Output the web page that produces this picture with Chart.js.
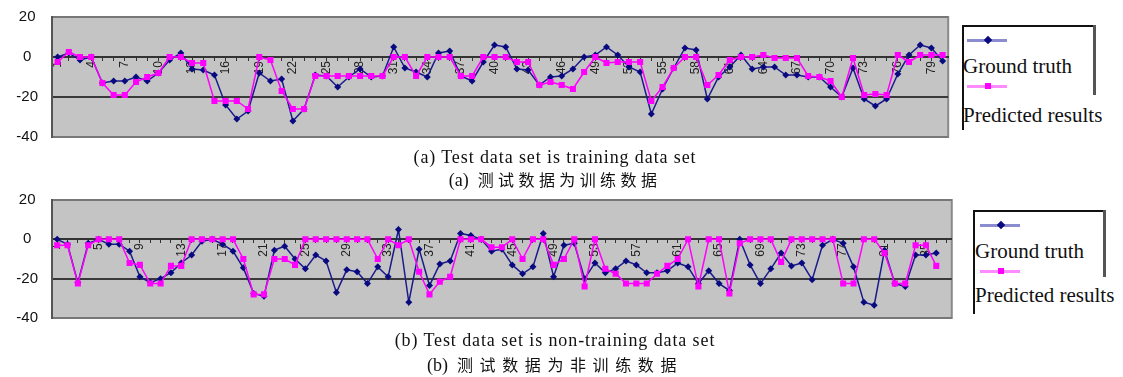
<!DOCTYPE html>
<html lang="zh">
<head>
<meta charset="UTF-8">
<title>Ground truth vs predicted results</title>
<script src="https://cdn.jsdelivr.net/npm/chart.js"></script>
<style>
    body { margin: 0; width: 1123px; height: 377px; background: #fff; position: relative; overflow: hidden;
           font-family: "Liberation Serif", "Times New Roman", serif; color: #111; }
    canvas { position: absolute; left: 0; }
    .abs { position: absolute; }
    .box { border-left: 2px solid #111; border-top: 2px solid #111; }
    .rb { width: 3px; background: #555; }
    .line { height: 3px; }
    .mk { width: 6px; height: 6px; }
    .lgtext { font-size: 21px; line-height: 22px; white-space: nowrap; }
    .cap { left: 250px; width: 610px; text-align: center; white-space: nowrap; line-height: 20px; font-size: 18px; letter-spacing: 0.9px; }
    .cn { font-size: 18px; letter-spacing: 0; }
    .cjk { font-family: "Noto Sans CJK SC", sans-serif; font-size: 16px; }
</style>
</head>
<body>
<!-- canvases are shifted so that the plot areas land where the reference has them -->
<canvas id="chartA" width="958" height="166" style="top:-6px"></canvas>
<canvas id="chartB" width="962" height="164" style="top:177px"></canvas>

<!-- legend (a) -->
<div class="abs box" style="left:962px; top:25px; width:131px; height:103px;"></div>
<div class="abs rb" style="left:1093px; top:25px; height:70px;"></div>
<div class="abs line" style="left:967px; top:39px; width:40px; background:#8c8cd0;"></div>
<div class="abs mk" style="left:985px; top:37px; background:#0a0a80; transform:rotate(45deg);"></div>
<div class="abs lgtext" style="left:963px; top:55px;">Ground truth</div>
<div class="abs line" style="left:967px; top:85px; width:40px; background:#ff8cff;"></div>
<div class="abs mk" style="left:985px; top:83px; background:#ff00ff;"></div>
<div class="abs lgtext" style="left:963px; top:104px;">Predicted results</div>

<!-- legend (b) -->
<div class="abs box" style="left:973px; top:210px; width:130px; height:102px;"></div>
<div class="abs rb" style="left:1103px; top:210px; height:67px;"></div>
<div class="abs line" style="left:980px; top:224px; width:40px; background:#8c8cd0;"></div>
<div class="abs mk" style="left:998px; top:222px; background:#0a0a80; transform:rotate(45deg);"></div>
<div class="abs lgtext" style="left:975px; top:240px;">Ground truth</div>
<div class="abs line" style="left:980px; top:270px; width:40px; background:#ff8cff;"></div>
<div class="abs mk" style="left:998px; top:268px; background:#ff00ff;"></div>
<div class="abs lgtext" style="left:975px; top:284px;">Predicted results</div>

<!-- captions -->
<div class="abs cap" style="top:147px;">(a) Test data set is training data set</div>
<div class="abs cap cn" style="top:169px;">(a)&nbsp; <span class="cjk" style="letter-spacing:4.4px">测试数据为训练数据</span></div>
<div class="abs cap" style="top:330px;">(b) Test data set is non-training data set</div>
<div class="abs cap cn" style="top:354px;">(b)&nbsp; <span class="cjk" style="letter-spacing:6.6px">测试数据为非训练数据</span></div>

<script>
    // sample numbers on the x axis
    const samplesA = Array.from({ length: 80 }, (_, i) => String(i + 1));
    const samplesB = Array.from({ length: 87 }, (_, i) => String(i + 1));
    const yTicks = [20, 0, -20, -40];

    // (a) test data set is training data set
    const truthA = [0, 2, -1.5, 0, -13, -12, -12, -10, -12, -8,
        -1.5, 2, -6, -6.5, -9, -24, -31, -27, -8, -12,
        -11, -32, -26, -9, -9.5, -15, -10, -6, -10, -9.5,
        5, -5.5, -7.5, -10, 2, 3, -9.5, -12, -2.5, 6,
        5, -6, -6.5, -14, -10, -9.5, -6, 0, 1, 5,
        1, -5, -7.5, -28.5, -16, -5.5, 4.5, 3.5, -21, -10,
        -5, 1, -6, -5, -5, -9, -9, -10, -10, -15,
        -20, -5.5, -21, -24.5, -21, -8.5, 1, 6, 4.5, -2];
    const predA = [-2.5, 2.5, 0, 0, -13, -19, -19, -12.5, -10, -8,
        0, 0, -3, -3, -22, -22, -22, -26, 0, -1.5,
        -17, -26, -26, -9.5, -9.5, -9.5, -9.5, -9.5, -9.5, -9.5,
        0, 0, -9.5, 0, 0, 0, -9.5, -9.5, 0, 0,
        0, -2.5, -2.5, -14, -12.5, -14, -16, -7.5, 0, -3,
        -2.5, -2.5, -2.5, -22, -15, -5.5, 0, 0, -14, -9,
        -1.5, 0, 0, 1, -0.5, -0.5, -0.5, -9.5, -10, -12,
        -20, -0.5, -19, -18.5, -19, 1, -2.5, 1, 1, 1];

    // (b) test data set is non-training data set
    const truthB = [0, -2.5, -22, -2, 0, -2.5, -2.5, -6, -19, -22,
        -20, -17, -12, -8, -1, 0, -2.5, -6, -14.5, -27.5,
        -29, -5.5, -3.5, -10, -15, -8, -11, -27, -15.5, -16.5,
        -22.5, -14, -19, 5, -32, -5, -23.5, -12.5, -11, 3,
        2, 0, -6, -5, -13, -17.5, -14, 3, -19, -3,
        -2, -20, -12, -17, -15, -11, -13, -17, -17, -16,
        -12, -14, -22.5, -16, -22.5, -26, 0, -13, -22.5, -15,
        -7, -13.5, -12, -20.5, -3, 0, -2, -14, -32, -33.5,
        -5.5, -22.5, -24, -8, -8, -7];
    const predB = [-3, -3, -22.5, -3, 0, 0, 0, -12, -13, -22.5,
        -22.5, -13.5, -13.5, 0, 0, 0, 0, 0, -10, -28,
        -28, -10, -10, -13, 0, 0, 0, 0, 0, 0,
        0, -10, 0, -3, 0, -16.5, -28, -21.5, -19, 0,
        0, 0, -4, -4, 0, -10, 0, 0, -13, -10,
        0, -24, 0, -15, -17.5, -22.5, -22.5, -22.5, -17.5, -13.5,
        -10, 0, -24, 0, 0, -27.5, -2, 0, 0, 0,
        -11.5, 0, 0, 0, 0, 0, -22.5, -22.5, 0, 0,
        -7, -22.5, -22.5, -3, -3, -13.5];

    // grey plot area with a frame, like the old spreadsheet chart
    const plotBackground = {
        id: 'plotBackground',
        beforeDraw(chart) {
            const { ctx, chartArea: a } = chart;
            ctx.save();
            ctx.fillStyle = '#c4c4c4';
            ctx.fillRect(a.left, a.top, a.right - a.left, a.bottom - a.top);
            ctx.strokeStyle = '#8a8a8a';
            ctx.lineWidth = 2;
            ctx.strokeRect(a.left, a.top, a.right - a.left, a.bottom - a.top);
            ctx.restore();
        }
    };

    function buildChart(id, samples, truth, pred, labelStep) {
        return new Chart(document.getElementById(id), {
            type: 'line',
            data: {
                labels: samples,
                datasets: [
                    {
                        label: 'Ground truth',
                        data: truth,
                        borderColor: '#1a1a8c',
                        backgroundColor: '#0a0a80',
                        borderWidth: 1.5,
                        pointStyle: 'rectRot',
                        pointRadius: 3.5,
                        pointBorderWidth: 0,
                        order: 1
                    },
                    {
                        label: 'Predicted results',
                        data: pred,
                        borderColor: '#ff00ff',
                        backgroundColor: '#ff00ff',
                        borderWidth: 1.5,
                        pointStyle: 'rect',
                        pointRadius: 4.3,
                        pointBorderWidth: 0,
                        order: 0
                    }
                ]
            },
            options: {
                responsive: false,
                animation: false,
                layout: { padding: 0, autoPadding: false },
                plugins: { legend: { display: false }, tooltip: { enabled: false } },
                scales: {
                    x: {
                        type: 'category',
                        position: { y: 0 },
                        offset: true,
                        afterFit: s => { s.height = 0; },
                        grid: { drawOnChartArea: false, tickLength: 3, color: '#333' },
                        border: { color: '#333', width: 2 },
                        ticks: {
                            autoSkip: false,
                            minRotation: 90,
                            maxRotation: 90,
                            padding: 1,
                            color: '#222',
                            font: { family: 'Liberation Sans', size: 12 },
                            callback: function (v, i) {
                                return i % labelStep === 0 ? this.getLabelForValue(v) : '';
                            }
                        }
                    },
                    y: {
                        min: -40,
                        max: 20,
                        afterBuildTicks: s => { s.ticks = yTicks.map(v => ({ value: v })); },
                        afterFit: s => { s.width = 52; },
                        grid: {
                            drawTicks: false,
                            lineWidth: 2,
                            color: c => (c.tick.value === 0 || c.tick.value === -20) ? '#3a3a3a' : '#777'
                        },
                        border: { color: '#555', width: 2 },
                        ticks: {
                            crossAlign: 'center',
                            padding: 14,
                            color: '#111',
                            font: { family: 'Liberation Sans', size: 15 }
                        }
                    }
                }
            },
            plugins: [plotBackground]
        });
    }

    buildChart('chartA', samplesA, truthA, predA, 3);
    buildChart('chartB', samplesB, truthB, predB, 4);
</script>
</body>
</html>
